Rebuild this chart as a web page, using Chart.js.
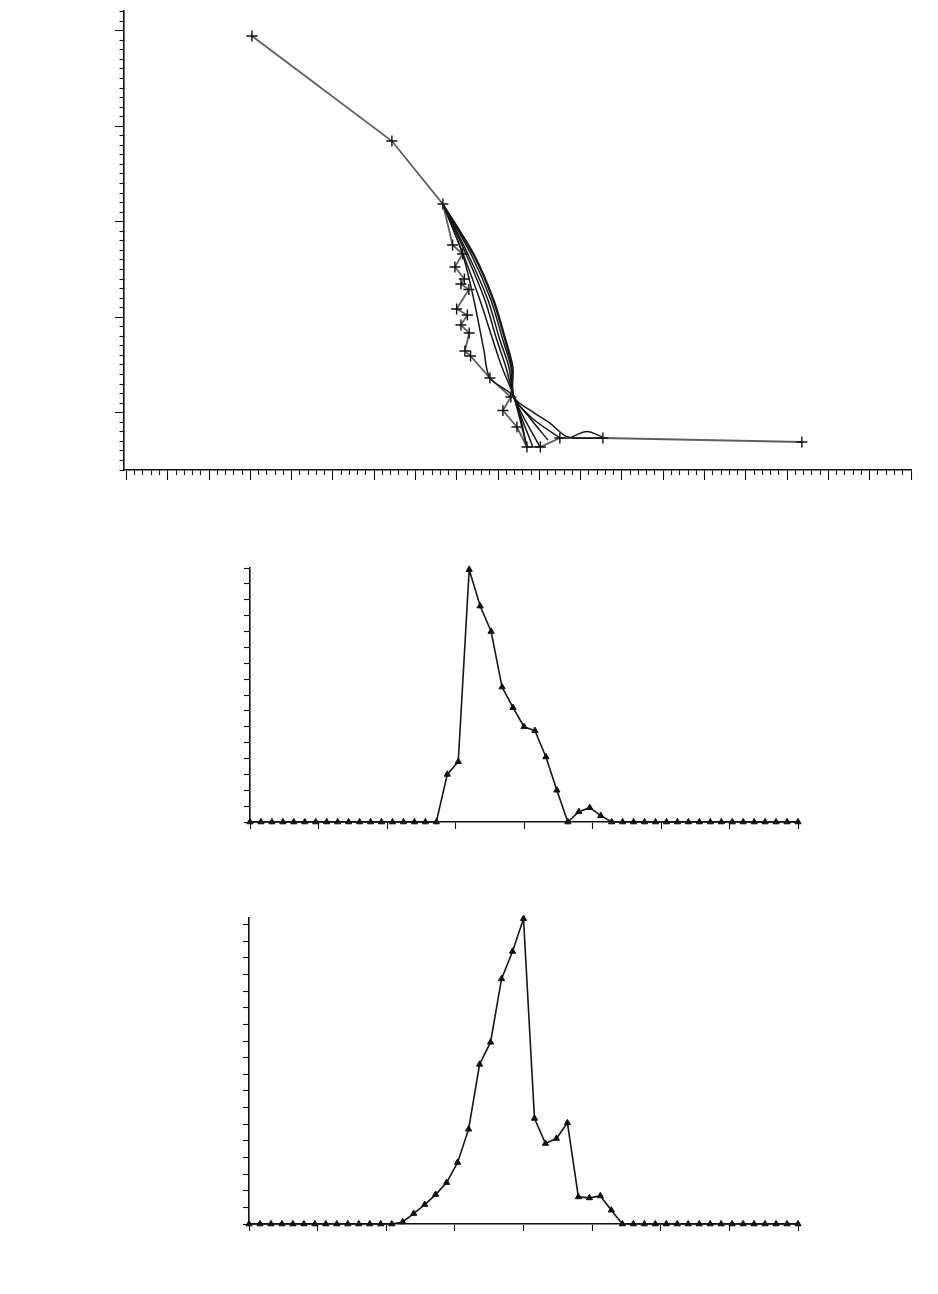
<!DOCTYPE html>
<html>
<head>
<meta charset="utf-8">
<script src="https://cdn.jsdelivr.net/npm/chart.js@4.4.0/dist/chart.umd.min.js"></script>
<style>
html, body { margin: 0; padding: 0; background: #fff; }
body { width: 938px; height: 1294px; position: relative; overflow: hidden; }
.box { position: absolute; left: 0; width: 938px; }
</style>
</head>
<body>
<div class="box" style="top:0;height:490px"><canvas id="curve-chart"></canvas></div>
<div class="box" style="top:540px;height:300px"><canvas id="rate-chart"></canvas></div>
<div class="box" style="top:890px;height:350px"><canvas id="flow-chart"></canvas></div>
<script>
// top chart: main path (+ markers)
const mainX = [15.19, 32.14, 38.32, 39.49, 40.70, 39.77, 40.92, 40.50, 41.46, 39.98, 41.28, 40.50, 41.50, 40.98, 41.67, 44.01, 46.55, 45.58, 47.28, 48.49, 50.12, 52.48, 57.69, 81.78];
const mainY = [45.45, 34.45, 27.85, 23.56, 22.62, 21.26, 20.00, 19.48, 18.90, 16.86, 16.23, 15.18, 14.35, 12.46, 11.94, 9.63, 7.64, 6.23, 4.50, 2.41, 2.41, 3.35, 3.35, 2.93];

// top chart: smooth curves
const curveA = [[38.32, 27.85], [40.70, 22.62], [42.07, 17.80], [43.28, 12.57], [44.01, 9.63], [46.91, 7.64], [48.49, 2.41]];
const curveB = [[38.32, 27.85], [40.86, 22.41], [42.80, 17.80], [44.37, 13.61], [45.46, 10.79], [46.91, 7.64], [48.49, 2.41]];
const curveC = [[38.32, 27.85], [41.22, 22.41], [43.40, 17.80], [44.85, 13.61], [45.94, 10.79], [46.91, 7.64], [49.21, 2.41]];
const curveD = [[38.32, 27.85], [41.46, 22.41], [43.77, 17.80], [45.22, 13.61], [46.31, 10.79], [46.91, 7.64], [50.06, 2.41]];
const curveE = [[38.32, 27.85], [41.83, 22.41], [44.13, 17.80], [45.58, 13.61], [46.55, 10.79], [46.91, 7.64], [48.85, 5.45], [51.03, 3.14]];
const curveF = [[38.32, 27.85], [42.07, 22.41], [44.37, 17.80], [45.82, 13.61], [46.67, 10.79], [46.91, 7.64], [49.09, 5.45], [52.48, 3.35]];
const curveG = [[38.32, 27.85], [42.19, 22.41], [44.49, 17.80], [45.94, 13.61], [46.79, 10.79], [46.91, 7.64], [49.21, 6.07], [51.27, 4.92], [53.45, 3.46], [57.69, 3.35]];
const bump = [[53.93, 3.46], [55.75, 4.03], [57.63, 3.46]];

const topXMajor = [0, 5, 10, 15, 20, 25, 30, 35, 40, 45, 50, 55, 60, 65, 70, 75, 80, 85, 90, 95];
const topYMajor = [6, 16, 26, 36, 46];

// lower charts
const sampleCount = 51;
const rateValues = [0, 0, 0, 0, 0, 0, 0, 0, 0, 0, 0, 0, 0, 0, 0, 0, 0, 0,
  3.0, 3.8, 15.9, 13.6, 12.0, 8.5, 7.2, 6.0, 5.75, 4.1, 2.0, 0, 0.65, 0.9, 0.4,
  0, 0, 0, 0, 0, 0, 0, 0, 0, 0, 0, 0, 0, 0, 0, 0, 0, 0];
const flowValues = [0, 0, 0, 0, 0, 0, 0, 0, 0, 0, 0, 0, 0, 0,
  0.12, 0.63, 1.17, 1.77, 2.49, 3.7, 5.7, 9.6, 10.93, 14.74, 16.39, 18.36, 6.35, 4.84, 5.14, 6.08, 1.63, 1.57, 1.69, 0.83,
  0, 0, 0, 0, 0, 0, 0, 0, 0, 0, 0, 0, 0, 0, 0, 0, 0];
const lowXMajor = [0, 6.25, 12.5, 18.75, 25, 31.25, 37.5, 43.75, 50];

function range(a, b) {
  const out = [];
  for (let v = a; v <= b; v++) out.push(v);
  return out;
}

function tickAxis(axis, position, min, max, ticks, len, weight, border) {
  return {
    type: 'linear', axis: axis, position: position, min: min, max: max, weight: weight,
    afterBuildTicks: s => { s.ticks = ticks.map(v => ({ value: v })); },
    afterFit: s => { if (axis === 'x') s.height = len; else s.width = len; },
    grid: { drawOnChartArea: false, tickLength: len, color: '#111', tickWidth: 1.1 },
    border: { display: border, color: '#111', width: 1.6 },
    ticks: { display: false }
  };
}

function pairs(list) {
  return list.map(p => ({ x: p[0], y: p[1] }));
}

function curveSet(list) {
  return { data: pairs(list), borderColor: '#161616', borderWidth: 1.5, pointRadius: 0, tension: 0.3, clip: false };
}

const baseOpts = {
  responsive: true, maintainAspectRatio: false, animation: false,
  plugins: { legend: { display: false }, tooltip: { enabled: false } }
};

new Chart(document.getElementById('curve-chart'), {
  type: 'line',
  data: {
    datasets: [
      curveSet(curveA), curveSet(curveB), curveSet(curveC), curveSet(curveD),
      curveSet(curveE), curveSet(curveF), curveSet(curveG), curveSet(bump),
      {
        data: mainX.map((x, i) => ({ x: x, y: mainY[i] })),
        borderColor: '#5e5e5e', borderWidth: 1.8, tension: 0, clip: false,
        pointStyle: 'cross', pointRadius: 5.5, pointBorderColor: '#111', pointBorderWidth: 1.4
      }
    ]
  },
  options: Object.assign({}, baseOpts, {
    layout: { padding: { left: 115, right: 27, top: 10.7, bottom: 10 } },
    scales: {
      x: tickAxis('x', 'bottom', -0.3, 95, range(0, 95), 5, 0, true),
      xMaj: tickAxis('x', 'bottom', -0.3, 95, topXMajor, 5, 1, false),
      y: tickAxis('y', 'left', 0, 48.1, range(0, 48), 4.5, 0, true),
      yMaj: tickAxis('y', 'left', 0, 48.1, topYMajor, 4.5, 1, false)
    }
  })
});

function lowChart(id, values, yMax, yTicks, pad) {
  new Chart(document.getElementById(id), {
    type: 'line',
    data: {
      datasets: [{
        data: values.map((v, i) => ({ x: i, y: v })),
        borderColor: '#161616', borderWidth: 1.6, tension: 0, clip: false,
        pointStyle: 'triangle', pointRadius: 3.6, pointBackgroundColor: '#111',
        pointBorderColor: '#111', pointBorderWidth: 1
      }]
    },
    options: Object.assign({}, baseOpts, {
      layout: { padding: pad },
      scales: {
        x: tickAxis('x', 'bottom', 0, sampleCount - 1, lowXMajor, 7, 0, true),
        y: tickAxis('y', 'left', 0, yMax, yTicks, 6, 0, true)
      }
    })
  });
}

lowChart('rate-chart', rateValues, 16, range(0, 16), { left: 244, right: 140, top: 28, bottom: 11 });
lowChart('flow-chart', flowValues, 18.4, range(0, 18), { left: 243, right: 140, top: 28, bottom: 9 });
</script>
</body>
</html>
